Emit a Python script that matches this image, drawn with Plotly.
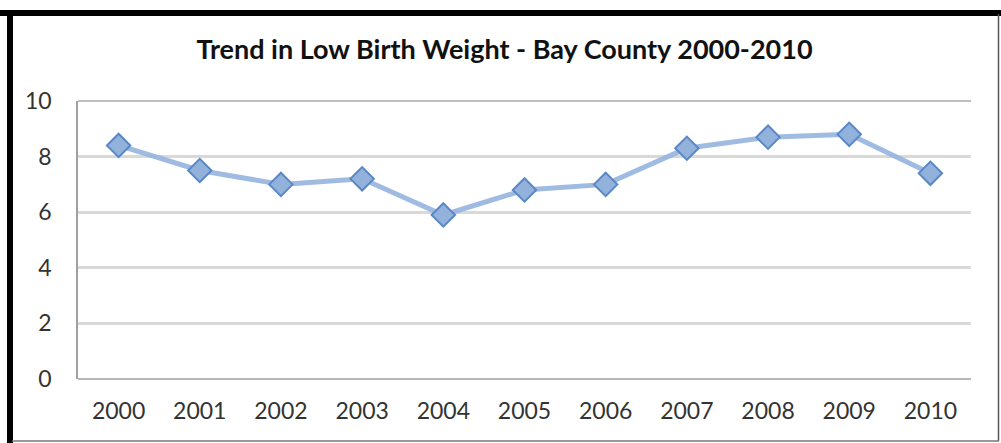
import plotly.graph_objects as go

years = ["2000", "2001", "2002", "2003", "2004", "2005", "2006", "2007", "2008", "2009", "2010"]
low_birth_weight = [8.4, 7.5, 7.0, 7.2, 5.9, 6.8, 7.0, 8.3, 8.7, 8.8, 7.4]
y_ticks = [0, 2, 4, 6, 8, 10]

W, H = 1001, 443
L, R, T, B = 78, 971, 101, 379
pw, ph = R - L, B - T

def px(x):
    return (x - L) / pw

def py(y):
    return (B - y) / ph

FONT = "Lato, Open Sans, sans-serif"

fig = go.Figure()
fig.add_trace(go.Scatter(
    x=years, y=low_birth_weight, mode="lines+markers",
    line=dict(color="rgba(150,180,222,0.9)", width=5),
    marker=dict(symbol="diamond", size=18, color="#92b1db",
                line=dict(color="#5a88c6", width=2)),
    showlegend=False, hoverinfo="x+y",
))

fig.update_layout(
    width=W, height=H,
    margin=dict(l=L, r=W - R, t=T, b=H - B),
    paper_bgcolor="white", plot_bgcolor="white",
    title=dict(text="<b>Trend in Low Birth Weight - Bay County 2000-2010</b>",
               x=0.504, xanchor="center", y=1 - 50 / H, yanchor="middle",
               font=dict(family=FONT, size=27, color="#111")),
    xaxis=dict(type="category", range=[-0.5, len(years) - 0.5], showgrid=False,
               showline=False, zeroline=False,
               ticks="", ticklabelstandoff=16,
               tickfont=dict(family=FONT, size=23, color="#333")),
    yaxis=dict(range=[0, 10], tickvals=y_ticks, showgrid=True, gridcolor="#d9d9d9",
               gridwidth=2.5, zeroline=False, showline=True, linecolor="#a0a0a0", linewidth=1.5,
               ticks="", ticklabelstandoff=20,
               tickfont=dict(family=FONT, size=23, color="#333")),
    shapes=[
        dict(type="line", xref="paper", yref="paper", x0=0, x1=1, y0=1, y1=1,
             line=dict(color="#a8a8a8", width=1.5)),
        dict(type="line", xref="paper", yref="paper", x0=0, x1=1, y0=0, y1=0,
             line=dict(color="#a0a0a0", width=1.5)),
        dict(type="rect", xref="paper", yref="paper", x0=px(0), x1=px(1001), y0=py(10), y1=py(16),
             fillcolor="black", line=dict(width=0)),
        dict(type="rect", xref="paper", yref="paper", x0=px(7), x1=px(13), y0=py(10), y1=py(443),
             fillcolor="black", line=dict(width=0)),
        dict(type="line", xref="paper", yref="paper", x0=px(998.5), x1=px(998.5), y0=py(14), y1=py(441),
             line=dict(color="#555", width=1.5)),
        dict(type="line", xref="paper", yref="paper", x0=px(12), x1=px(999), y0=py(441), y1=py(441),
             line=dict(color="#777", width=1.5)),
    ],
)

fig.write_html("out.html", config={"displayModeBar": False},
               post_script="document.body.style.margin='0';")
